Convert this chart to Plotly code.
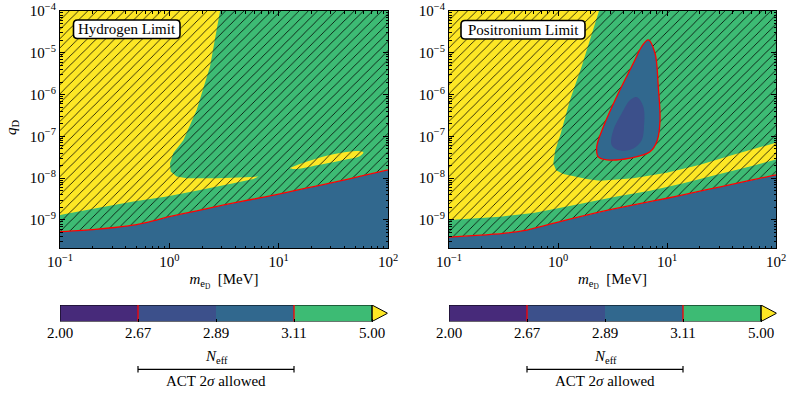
import plotly.graph_objects as go

# ---------------- data (log10 values) ----------------
m_log_range = [-1.0, 2.0]
q_log_range = [-9.67, -4.0]

# Hydrogen limit panel
h_red_logm = [-1.0, -0.7, -0.5, -0.3, -0.15, 0.0, 0.25, 0.5, 0.75, 1.0, 1.25, 1.5, 1.75, 2.0]
h_red_logq = [-9.28, -9.23, -9.18, -9.11, -9.02, -8.92, -8.78, -8.64, -8.51, -8.38, -8.24, -8.10,
              -7.95, -7.80]

h_yel_logm = [-1.0, 0.464, 0.372, 0.25, 0.128, 0.037, 0.006, 0.012, 0.067, 0.159, 0.434, 0.70, 0.815,
              0.769, 0.586, 0.281, -0.024, -0.329, -0.634, -1.0]
h_yel_logq = [-4.0, -4.0, -5.33, -6.37, -7.09, -7.40, -7.64, -7.84, -7.96, -8.0, -8.0, -7.98, -7.96,
              -8.02, -8.12, -8.28, -8.44, -8.56, -8.70, -8.88]

h_isl_logm = [1.104, 1.135, 1.349, 1.562, 1.714, 1.775, 1.745, 1.562, 1.349, 1.166, 1.104]
h_isl_logq = [-7.76, -7.72, -7.53, -7.40, -7.35, -7.38, -7.47, -7.58, -7.69, -7.78, -7.76]

# Positronium limit panel
p_red_logm = [-1.0, -0.75, -0.5, -0.3, -0.15, 0.0, 0.25, 0.5, 0.75, 1.0, 1.25, 1.5, 1.75, 2.0]
p_red_logq = [-9.41, -9.37, -9.32, -9.25, -9.15, -9.05, -8.89, -8.74, -8.61, -8.48, -8.34, -8.20,
              -8.06, -7.92]

p_yel_logm = [-1.0, 0.376, 0.217, 0.110, 0.025, -0.025, -0.043, -0.018, 0.049, 0.263, 0.385, 0.691,
              0.997, 1.303, 1.609, 2.0, 2.0, 1.761, 1.456, 1.150, 0.844, 0.538, 0.232, 0.0, -0.227,
              -0.532, -1.0]
p_yel_logq = [-4.0, -4.0, -5.33, -6.13, -6.93, -7.33, -7.64, -7.81, -7.90, -8.02, -8.06, -8.0,
              -7.87, -7.68, -7.44, -7.15, -7.55, -7.72, -7.92, -8.12, -8.30, -8.44, -8.60, -8.72,
              -8.83, -8.92, -9.0]

p_isl_logm = [0.828, 0.89, 0.92, 0.936, 0.911, 0.844, 0.661, 0.447, 0.370, 0.355, 0.416, 0.538,
              0.691, 0.768, 0.828]
p_isl_logq = [-4.69, -5.01, -5.81, -6.61, -7.09, -7.37, -7.52, -7.56, -7.49, -7.25, -6.77, -6.05,
              -5.25, -4.85, -4.69]

p_in_logm = [0.722, 0.783, 0.789, 0.768, 0.691, 0.569, 0.493, 0.507, 0.584, 0.661, 0.722]
p_in_logq = [-6.06, -6.29, -6.77, -7.09, -7.29, -7.34, -7.21, -6.85, -6.45, -6.13, -6.06]

# N_eff colour levels
neff_bounds = [2.00, 2.67, 2.89, 3.11, 5.00]
neff_colors = ["#472a7a", "#3c508b", "#31688e", "#3dbb74"]
neff_over_color = "#fde725"
act_low, act_high = 2.67, 3.11

x_decades = [-1, 0, 1, 2]
y_decades = [-10, -9, -8, -7, -6, -5, -4]
x_tickvals = [0.1, 1, 10, 100]
x_ticktext = ["10<sup>−1</sup>", "10<sup>0</sup>", "10<sup>1</sup>", "10<sup>2</sup>"]
y_tickvals = [1e-9, 1e-8, 1e-7, 1e-6, 1e-5, 1e-4]
y_ticktext = ["10<sup>−9</sup>", "10<sup>−8</sup>", "10<sup>−7</sup>", "10<sup>−6</sup>",
              "10<sup>−5</sup>", "10<sup>−4</sup>"]

panel_titles = ["Hydrogen Limit", "Positronium Limit"]

# ---------------- figure ----------------
FONT = "Liberation Serif"
W, H = 793, 393
TEAL = neff_colors[2]
GREEN = neff_colors[3]
BLUE = neff_colors[1]
YELLOW = neff_over_color


def P(v):
    return [10 ** a for a in v]


fig = go.Figure()


def add_panel(xa, ya, red_m, red_q, yel_m, yel_q, islands, inner):
    q_top = q_log_range[1]
    q_bot = q_log_range[0]
    # allowed region below the N_eff = 3.11 contour (teal)
    tm = red_m + [red_m[-1], red_m[0], red_m[0]]
    tq = red_q + [q_bot, q_bot, red_q[0]]
    fig.add_trace(go.Scatter(x=P(tm), y=P(tq), fill="toself", fillcolor=TEAL, mode="none",
                             xaxis=xa, yaxis=ya, hoverinfo="skip"))
    # region above the N_eff = 3.11 contour (green)
    gm = red_m + [red_m[-1], red_m[0], red_m[0]]
    gq = red_q + [q_top, q_top, red_q[0]]
    fig.add_trace(go.Scatter(x=P(gm), y=P(gq), fill="toself", fillcolor=GREEN, mode="none",
                             xaxis=xa, yaxis=ya, hoverinfo="skip"))
    # N_eff > 5 (yellow)
    fig.add_trace(go.Scatter(x=P(yel_m), y=P(yel_q), fill="toself", fillcolor=YELLOW, mode="none",
                             xaxis=xa, yaxis=ya, hoverinfo="skip"))
    for im, iq in islands:
        fig.add_trace(go.Scatter(x=P(im), y=P(iq), fill="toself", fillcolor=YELLOW, mode="none",
                                 line=dict(shape="spline", smoothing=1.0),
                                 xaxis=xa, yaxis=ya, hoverinfo="skip"))
    # hatch for excluded region
    fig.add_trace(go.Scatter(x=P(gm), y=P(gq), fill="toself", mode="none",
                             fillcolor="rgba(0,0,0,0)",
                             fillpattern=dict(shape="/", size=6.5, solidity=0.14,
                                              fgcolor="rgba(0,0,0,0.85)", bgcolor="rgba(0,0,0,0)",
                                              fillmode="replace"),
                             xaxis=xa, yaxis=ya, hoverinfo="skip"))
    # allowed island(s)
    for (om, oq), (nm, nq) in inner:
        fig.add_trace(go.Scatter(x=P(om), y=P(oq), fill="toself", fillcolor=TEAL, mode="lines",
                                 line=dict(color="red", width=1.3, shape="spline", smoothing=1.0),
                                 xaxis=xa, yaxis=ya, hoverinfo="skip"))
        fig.add_trace(go.Scatter(x=P(nm), y=P(nq), fill="toself", fillcolor=BLUE, mode="none",
                                 line=dict(shape="spline", smoothing=1.0),
                                 xaxis=xa, yaxis=ya, hoverinfo="skip"))
    # N_eff = 3.11 contour
    fig.add_trace(go.Scatter(x=P(red_m), y=P(red_q), mode="lines",
                             line=dict(color="red", width=1.3, shape="spline", smoothing=0.5),
                             xaxis=xa, yaxis=ya, hoverinfo="skip"))


add_panel("x", "y", h_red_logm, h_red_logq, h_yel_logm, h_yel_logq,
          [(h_isl_logm, h_isl_logq)], [])
add_panel("x2", "y2", p_red_logm, p_red_logq, p_yel_logm, p_yel_logq,
          [], [((p_isl_logm, p_isl_logq), (p_in_logm, p_in_logq))])

# ---------------- colourbars ----------------
n_bins = len(neff_colors)
tip = 0.2
for xa, ya in [("x3", "y3"), ("x4", "y4")]:
    fig.add_trace(go.Bar(y=[0] * n_bins, x=[1] * n_bins, base=list(range(n_bins)), orientation="h",
                         width=1, marker=dict(color=neff_colors, line=dict(width=0)),
                         xaxis=xa, yaxis=ya, hoverinfo="skip"))
    fig.add_trace(go.Scatter(x=[n_bins, n_bins + tip, n_bins, n_bins], y=[-0.5, 0, 0.5, -0.5],
                             fill="toself", fillcolor=neff_over_color, mode="lines",
                             line=dict(color="black", width=1), cliponaxis=False,
                             xaxis=xa, yaxis=ya, hoverinfo="skip"))
    fig.add_trace(go.Scatter(x=[0, n_bins, n_bins, 0, 0], y=[-0.5, -0.5, 0.5, 0.5, -0.5],
                             mode="lines", line=dict(color="black", width=1), cliponaxis=False,
                             xaxis=xa, yaxis=ya, hoverinfo="skip"))
    for v in (act_low, act_high):
        i = neff_bounds.index(v)
        fig.add_trace(go.Scatter(x=[i, i], y=[-0.5, 0.5], mode="lines",
                                 line=dict(color="red", width=1.3),
                                 xaxis=xa, yaxis=ya, hoverinfo="skip"))

# ---------------- layout ----------------
def px_x(p):
    return p / W


def px_y(p):
    return 1 - p / H


dom_y = [px_y(248), px_y(11)]
dom_x1 = [px_x(60), px_x(388)]
dom_x2 = [px_x(449), px_x(776)]
cb_y = [px_y(321.5), px_y(305)]
cb_x1 = [px_x(60), px_x(60 + 312 * (n_bins + tip) / n_bins)]
cb_x2 = [px_x(449), px_x(449 + 312 * (n_bins + tip) / n_bins)]

x_minor = [k * 10.0 ** d for d in x_decades for k in range(2, 10)]
y_minor = [k * 10.0 ** d for d in y_decades for k in range(2, 10)]

axis_font = dict(family=FONT, size=15, color="black")
common_x = dict(type="log", range=m_log_range, tickvals=x_tickvals, ticktext=x_ticktext,
                ticks="inside", ticklen=5, tickcolor="black", showline=True, linecolor="black",
                linewidth=1, mirror="allticks", showgrid=False, zeroline=False, automargin=False,
                tickfont=axis_font, layer="above traces",
                minor=dict(tickvals=x_minor, ticks="inside", ticklen=2.5, tickcolor="black",
                           tickwidth=0.8, showgrid=False),
                title=dict(text="<i>m</i><sub>e<sub>D</sub></sub>  [MeV]",
                           font=dict(family=FONT, size=15), standoff=4))
common_y = dict(type="log", range=q_log_range, tickvals=y_tickvals, ticktext=y_ticktext,
                ticks="inside", ticklen=5, tickcolor="black", showline=True, linecolor="black",
                linewidth=1, mirror="allticks", showgrid=False, zeroline=False, automargin=False,
                tickfont=axis_font, layer="above traces",
                minor=dict(tickvals=y_minor, ticks="inside", ticklen=2.5, tickcolor="black",
                           tickwidth=0.8, showgrid=False))

cb_ticktext = ["%.2f" % b for b in neff_bounds]
common_cbx = dict(range=[0, n_bins + tip], tickvals=list(range(len(neff_bounds))),
                  ticktext=cb_ticktext, ticks="inside", ticklen=3, tickcolor="black",
                  showline=False, showgrid=False, zeroline=False, tickfont=axis_font,
                  layer="above traces", fixedrange=True, automargin=False)
common_cby = dict(range=[-0.5, 0.5], showticklabels=False, ticks="", showline=False,
                  showgrid=False, zeroline=False, fixedrange=True, automargin=False)

fig.update_layout(
    width=W, height=H, margin=dict(l=0, r=0, t=0, b=0, autoexpand=False),
    paper_bgcolor="white", plot_bgcolor="white", showlegend=False, barmode="overlay",
    font=dict(family=FONT, size=15, color="black"),
    xaxis=dict(domain=dom_x1, anchor="y", **common_x),
    yaxis=dict(domain=dom_y, anchor="x", **common_y),
    xaxis2=dict(domain=dom_x2, anchor="y2", **common_x),
    yaxis2=dict(domain=dom_y, anchor="x2", **common_y),
    xaxis3=dict(domain=cb_x1, anchor="y3", **common_cbx),
    yaxis3=dict(domain=cb_y, anchor="x3", **common_cby),
    xaxis4=dict(domain=cb_x2, anchor="y4", **common_cbx),
    yaxis4=dict(domain=cb_y, anchor="x4", **common_cby),
)

# y-axis title of the left panel
fig.add_annotation(x=px_x(12), y=px_y(127), xref="paper", yref="paper", text="<i>q</i><sub>D</sub>",
                   textangle=-90, showarrow=False, font=dict(family=FONT, size=15),
                   xanchor="center", yanchor="middle")


# panel label boxes (rounded)
def rounded_box(x0, y0, x1, y1, r=4):
    X0, X1 = px_x(x0), px_x(x1)
    Y0, Y1 = px_y(y0), px_y(y1)
    rx, ry = r / W, r / H
    return (f"M {X0+rx},{Y0} L {X1-rx},{Y0} Q {X1},{Y0} {X1},{Y0-ry} "
            f"L {X1},{Y1+ry} Q {X1},{Y1} {X1-rx},{Y1} L {X0+rx},{Y1} "
            f"Q {X0},{Y1} {X0},{Y1+ry} L {X0},{Y0-ry} Q {X0},{Y0} {X0+rx},{Y0} Z")


boxes = [(73.5, 20, 180, 38.5), (461, 20.5, 585, 39)]
for (x0, y0, x1, y1), t in zip(boxes, panel_titles):
    fig.add_shape(type="path", path=rounded_box(x0, y0, x1, y1), xref="paper", yref="paper",
                  fillcolor="white", line=dict(color="black", width=1.6), layer="above")
    fig.add_annotation(x=px_x((x0 + x1) / 2), y=px_y((y0 + y1) / 2), xref="paper", yref="paper",
                       text=t, showarrow=False, font=dict(family=FONT, size=15),
                       xanchor="center", yanchor="middle")

# colourbar labels and ACT bracket
for xa in ["x3", "x4"]:
    fig.add_annotation(x=(n_bins) / 2, y=px_y(357), xref=xa, yref="paper",
                       text="<i>N</i><sub>eff</sub>", showarrow=False,
                       font=dict(family=FONT, size=15), yanchor="middle")
    i0, i1 = neff_bounds.index(act_low), neff_bounds.index(act_high)
    fig.add_shape(type="line", x0=i0, x1=i1, y0=px_y(369.3), y1=px_y(369.3), xref=xa, yref="paper",
                  line=dict(color="black", width=1.2))
    for i in (i0, i1):
        fig.add_shape(type="line", x0=i, x1=i, y0=px_y(366), y1=px_y(372.5), xref=xa, yref="paper",
                      line=dict(color="black", width=1.2))
    fig.add_annotation(x=(i0 + i1) / 2, y=px_y(381), xref=xa, yref="paper",
                       text="ACT 2<i>σ</i> allowed", showarrow=False,
                       font=dict(family=FONT, size=15), yanchor="middle")

fig.write_html("out.html", config={"displayModeBar": False},
               post_script="document.body.style.margin='0px';")
